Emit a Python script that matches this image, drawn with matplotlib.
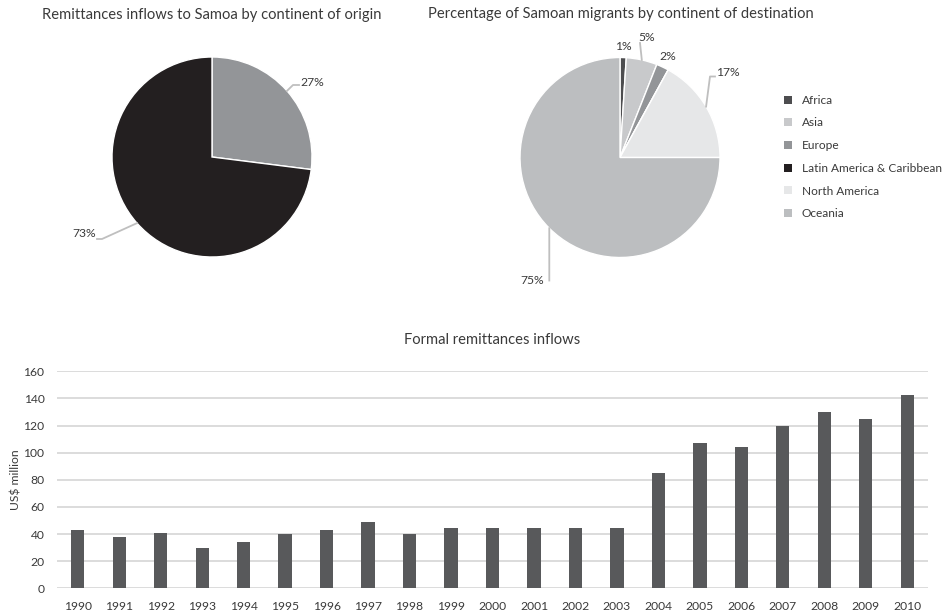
import numpy as np
import matplotlib
matplotlib.use("Agg")
import matplotlib.pyplot as plt
from matplotlib.patches import Patch

plt.rcParams['font.family'] = ['Lato', 'DejaVu Sans']

# --- data ---
origin_labels = ['Other', 'Main']
origin_pct = [27, 73]
origin_colors = ['#939598', '#231f20']

dest_labels = ['Africa', 'Asia', 'Europe', 'Latin America & Caribbean',
               'North America', 'Oceania']
dest_pct = [1, 5, 2, 0, 17, 75]
dest_colors = ['#4d4d4f', '#c8c9cb', '#939598', '#231f20', '#e6e7e8', '#bcbec0']

years = [str(y) for y in range(1990, 2011)]
inflows = [43, 38, 41, 29.5, 34, 40, 43, 49, 40, 44.5,
           44.5, 44.5, 44.5, 44.5, 85, 107.5, 104.5, 120, 130, 125, 142.5]

W, H = 950, 612
text_col = '#3a3a3a'
lead_col = '#bfbfbf'


def px_axes(fig, x0, y0, w, h):
    # axes from pixel box (top-left origin)
    return fig.add_axes([x0 / W, 1 - (y0 + h) / H, w / W, h / H])


def mid_angles(vals):
    total = float(sum(vals))
    out = []
    start = 90.0
    for v in vals:
        span = 360.0 * v / total
        out.append(np.deg2rad(start - span / 2))
        start -= span
    return out


def leader(ax, ang, pts):
    xs = [np.cos(ang)] + [p[0] for p in pts]
    ys = [np.sin(ang)] + [p[1] for p in pts]
    ax.plot(xs, ys, color=lead_col, lw=1.3, clip_on=False, zorder=1)


fig = plt.figure(figsize=(W / 100, H / 100), dpi=100)

# --- pie 1 ---
ax1 = px_axes(fig, 112, 57, 200, 200)
ax1.pie(origin_pct, colors=origin_colors, startangle=90, counterclock=False,
        radius=1, wedgeprops=dict(edgecolor='white', linewidth=1))
ax1.set_xlim(-1, 1)
ax1.set_ylim(-1, 1)
ax1.set_aspect('equal')
ax1.axis('off')
a1 = mid_angles(origin_pct)
leader(ax1, a1[0], [(0.81, 0.72), (0.87, 0.72)])
ax1.text(1.0, 0.75, f"{origin_pct[0]}%", ha='center', va='center', fontsize=8.7, color=text_col)
leader(ax1, a1[1], [(-1.10, -0.82), (-1.15, -0.82)])
ax1.text(-1.28, -0.76, f"{origin_pct[1]}%", ha='center', va='center', fontsize=8.7, color=text_col)
fig.text(212 / W, 1 - 15 / H, 'Remittances inflows to Samoa by continent of origin',
         ha='center', va='center', fontsize=10.6, color=text_col)

# --- pie 2 ---
ax2 = px_axes(fig, 520, 57.5, 200, 200)
ax2.pie(dest_pct, colors=dest_colors, startangle=90, counterclock=False,
        radius=1, wedgeprops=dict(edgecolor='white', linewidth=1))
ax2.set_xlim(-1, 1)
ax2.set_ylim(-1, 1)
ax2.set_aspect('equal')
ax2.axis('off')
a2 = mid_angles(dest_pct)
# label layout per slice: (text pos, leader elbow points)
label_pos = {0: ((0.035, 1.11), None),
             1: ((0.267, 1.205), [(0.20, 1.145)]),
             2: ((0.48, 1.015), None),
             4: ((1.077, 0.848), [(0.90, 0.81), (0.95, 0.81)]),
             5: ((-0.875, -1.225), [(-0.707, -1.23)])}
for i, (tp, pts) in label_pos.items():
    if pts:
        leader(ax2, a2[i], pts)
    ax2.text(tp[0], tp[1], f"{dest_pct[i]}%", ha='center', va='center',
             fontsize=8.7, color=text_col)
fig.text(621 / W, 1 - 14 / H, 'Percentage of Samoan migrants by continent of destination',
         ha='center', va='center', fontsize=10.6, color=text_col)

handles = [Patch(facecolor=c, edgecolor='none') for c in dest_colors]
fig.legend(handles, dest_labels, loc='upper left',
           bbox_to_anchor=(773 / W, 1 - 84 / H), frameon=False,
           fontsize=8.6, labelcolor=text_col, handlelength=0.65, handleheight=0.65,
           handletextpad=0.85, labelspacing=0.98)

# --- bar chart ---
ax3 = fig.add_axes([57 / W, 1 - 588.3 / H, (928 - 57) / W, (588.3 - 371.3) / H])
x = np.arange(len(years))
ax3.bar(x, inflows, width=0.32, color='#58595b', zorder=3)
ax3.set_xlim(-0.5, len(years) - 0.5)
ax3.set_ylim(0, 160)
ax3.set_yticks(range(0, 161, 20))
ax3.set_xticks(x)
ax3.set_xticklabels(years)
ax3.yaxis.grid(True, color='#d9d9d9', lw=1.3, zorder=0)
ax3.tick_params(axis='both', length=0, labelsize=8.7, labelcolor=text_col)
ax3.tick_params(axis='y', pad=9)
ax3.tick_params(axis='x', pad=9)
for s in ['top', 'right', 'left', 'bottom']:
    ax3.spines[s].set_visible(False)
ax3.set_ylabel('US$ million', fontsize=8.7, color=text_col)
ax3.yaxis.set_label_coords(-35 / 871, 0.5)
ax3.set_title('Formal remittances inflows', fontsize=10.6, color=text_col, pad=20)

fig.savefig('out.png', dpi=100)
